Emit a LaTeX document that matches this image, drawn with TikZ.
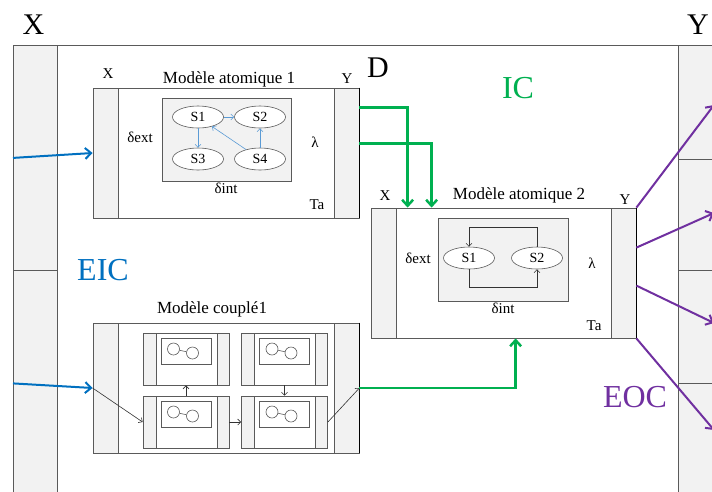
\documentclass[tikz,border=0pt]{standalone}
\usepackage{fontspec}
\setmainfont{Liberation Serif}
\usetikzlibrary{arrows.meta,shapes.geometric,positioning}

\definecolor{eicblue}{RGB}{0,112,192}
\definecolor{icgreen}{RGB}{0,176,80}
\definecolor{eocpurple}{RGB}{112,48,160}
\definecolor{portgray}{RGB}{242,242,242}
\definecolor{linegray}{RGB}{90,90,90}
\definecolor{trblue}{RGB}{91,155,213}

\tikzset{
  port/.style={draw=linegray,fill=portgray,line width=0.8pt,inner sep=0pt},
  box/.style={draw=linegray,fill=white,line width=0.8pt,inner sep=0pt},
  inbox/.style={draw=linegray,fill=portgray,line width=0.8pt,inner sep=0pt},
  state/.style={ellipse,draw=linegray,fill=white,line width=0.6pt,minimum width=51pt,minimum height=22pt,inner sep=0pt,font=\fontsize{14}{16}\selectfont},
  dot/.style={circle,draw=linegray,line width=0.6pt,minimum size=12pt,inner sep=0pt},
  big/.style={font=\fontsize{30}{34}\selectfont},
  conn/.style={font=\fontsize{32}{36}\selectfont},
  title/.style={font=\fontsize{17}{20}\selectfont},
  lab/.style={font=\fontsize{15}{18}\selectfont},
  eic/.style={eicblue,line width=2pt,-{Straight Barb[length=6pt,width=11pt]}},
  ic/.style={icgreen,line width=2.5pt,-{Straight Barb[length=6pt,width=11pt]}},
  eoc/.style={eocpurple,line width=2pt,-{Straight Barb[length=6pt,width=11pt]}},
  tr/.style={trblue,line width=0.6pt,-{Straight Barb[length=3pt,width=6pt]}},
  sm/.style={black!80,line width=0.6pt,-{Straight Barb[length=3pt,width=6pt]}}
}

\begin{document}
\begin{tikzpicture}[x=1pt,y=-1pt]
\useasboundingbox (0,0) rectangle (712,491);

% outer coupled model D
\node[port,anchor=north west,minimum width=44pt,minimum height=225pt] (X1) at (13,45) {};
\node[port,anchor=north west,minimum width=44pt,minimum height=226pt] (X2) at (13,270) {};
\foreach \i/\top/\h in {1/45/114,2/159/111,3/270/113,4/383/113}
  \node[port,anchor=north west,minimum width=44pt,minimum height=\h pt] (Y\i) at (678,\top) {};
\draw[draw=linegray,line width=0.8pt] (X1.north west) -- (Y1.north west);

\node[big] (lX) at (33.5,25) {X};
\node[big] (lY) at (698,25) {Y};
\node[big] (lD) at (378,68) {D};
\node[conn,text=icgreen] (lIC) at (518,88) {IC};
\node[conn,text=eicblue] (lEIC) at (103,270) {EIC};
\node[conn,text=eocpurple] (lEOC) at (635,397) {EOC};

% atomic model 1
\node[box,minimum width=266pt,minimum height=130pt] (m1) at (226,153) {};
\node[port,anchor=north west,minimum width=25pt,minimum height=130pt] (m1x) at (m1.north west) {};
\node[port,anchor=north east,minimum width=25pt,minimum height=130pt] (m1y) at (m1.north east) {};
\draw[line width=1.4pt] (m1y.north east) -- (m1y.south east);
\node[inbox,minimum width=129pt,minimum height=83pt] (m1in) at (226.5,139.5) {};
\foreach \i/\x/\y in {1/198/117,2/260/117,3/198/159,4/260/159}
  \node[state] (a\i) at (\x,\y) {S\i};
\draw[tr] (a1) -- (a2);
\draw[tr] (a1) -- (a3);
\draw[tr] (a4) -- (a1);
\draw[tr] (a4) -- (a2);
\node[lab] (m1lx) at (108,74) {X};
\node[title] (m1t) at (229,79) {Modèle atomique 1};
\node[lab] (m1ly) at (347,79) {Y};
\node[lab] (m1de) at (140,137) {δext};
\node[lab] (m1la) at (315,142) {λ};
\node[lab] (m1di) at (226,188) {δint};
\node[lab] (m1ta) at (317,205) {Ta};

% atomic model 2
\node[box,minimum width=265pt,minimum height=130pt] (m2) at (503.5,273) {};
\node[port,anchor=north west,minimum width=25pt,minimum height=130pt] (m2x) at (m2.north west) {};
\node[port,anchor=north east,minimum width=25pt,minimum height=130pt] (m2y) at (m2.north east) {};
\draw[line width=1.4pt] (m2y.north east) -- (m2y.south east);
\node[inbox,minimum width=130pt,minimum height=83pt] (m2in) at (503,259.5) {};
\node[state] (b1) at (469,258) {S1};
\node[state] (b2) at (537,258) {S2};
\draw[sm] (b2.north) -- ++(0,-19) -| (b1.north);
\draw[sm] (b1.south) -- ++(0,18) -| (b2.south);
\node[lab] (m2lx) at (385,196) {X};
\node[title] (m2t) at (519,195) {Modèle atomique 2};
\node[lab] (m2ly) at (625,200) {Y};
\node[lab] (m2de) at (418,258) {δext};
\node[lab] (m2la) at (592,263) {λ};
\node[lab] (m2di) at (503,308) {δint};
\node[lab] (m2ta) at (594,326) {Ta};

% coupled model 1
\node[box,minimum width=266pt,minimum height=130pt] (cm) at (226,388) {};
\node[port,anchor=north west,minimum width=25pt,minimum height=130pt] (cmx) at (cm.north west) {};
\node[port,anchor=north east,minimum width=25pt,minimum height=130pt] (cmy) at (cm.north east) {};
\draw[line width=1.4pt] (cmy.north east) -- (cmy.south east);
\node[title] (cmt) at (212,309) {Modèle couplé1};
\foreach \n/\x/\y in {c1/186/359,c2/284.5/359,c3/186/422,c4/284.5/422}{
  \node[box,minimum width=86pt,minimum height=52pt] (\n) at (\x,\y) {};
  \node[port,anchor=north west,minimum width=13pt,minimum height=52pt] (\n p) at (\n.north west) {};
  \node[port,anchor=north east,minimum width=12pt,minimum height=52pt] (\n q) at (\n.north east) {};
  \node[box,minimum width=50pt,minimum height=26pt] (\n i) at ([yshift=8pt]\n.center) {};
  \node[dot] (\n a) at ([xshift=-12.5pt,yshift=2pt]\n i.center) {};
  \node[dot] (\n b) at ([xshift=6.5pt,yshift=-2pt]\n i.center) {};
  \draw[linegray,line width=0.6pt] (\n a) -- (\n b);
}
\draw[sm] (cmx.west) -- (c3.west);
\draw[sm] (c3.north) -- (c1.south);
\draw[sm] (c3.east) -- (c4.west);
\draw[sm] (c2.south) -- (c4.north);
\draw[sm] (c4.east) -- (cmy.east);

% couplings
\draw[eic] (X1.west) -- (m1x.west);
\draw[eic] (X2.west) -- (cmx.west);
\draw[ic] ([yshift=-20pt]m1y.north east) -| ([xshift=37pt]m2.north west);
\draw[ic] ([yshift=-56pt]m1y.north east) -| ([xshift=61pt]m2.north west);
\draw[ic] (cmy.east) -| ([xshift=145pt]m2.south west);
\coordinate (o1) at (714,105);
\coordinate (o2) at (714,213);
\coordinate (o3) at (714,323);
\coordinate (o4) at (714,430);
\draw[eoc] (m2y.north east) -- (o1);
\draw[eoc] ([yshift=-40pt]m2y.north east) -- (o2);
\draw[eoc] ([yshift=-78pt]m2y.north east) -- (o3);
\draw[eoc] (m2y.south east) -- (o4);
\end{tikzpicture}
\end{document}
